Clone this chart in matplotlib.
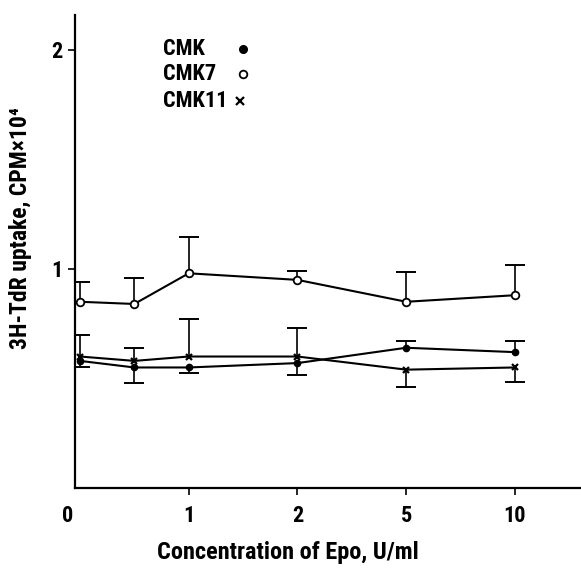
import numpy as np
import matplotlib.pyplot as plt
from matplotlib import transforms

plt.rcParams['font.family'] = ['Roboto Condensed', 'DejaVu Sans']
plt.rcParams['font.weight'] = 'bold'
plt.rcParams['font.stretch'] = 'condensed'
plt.rcParams['axes.labelweight'] = 'bold'

# Epo concentration (U/ml) placed on an evenly spaced category axis
conc_pos = np.array([0, 0.5, 1, 2, 3, 4])
tick_pos = [0, 1, 2, 3, 4]
tick_labels = ['0', '1', '2', '5', '10']

# 3H-TdR uptake, CPM x 10^4
cmk = np.array([0.58, 0.55, 0.55, 0.57, 0.64, 0.62])
cmk7 = np.array([0.85, 0.84, 0.98, 0.95, 0.85, 0.88])
cmk11 = np.array([0.60, 0.58, 0.60, 0.60, 0.54, 0.55])

# one-sided SD bars
cmk_lo = np.array([0.03, 0.07, 0.025, 0.055, 0, 0])
cmk_hi = np.array([0, 0, 0, 0, 0.03, 0.05])
cmk7_hi = np.array([0.09, 0.12, 0.165, 0.04, 0.135, 0.14])
cmk11_lo = np.array([0, 0, 0, 0, 0.08, 0.065])
cmk11_hi = np.array([0.10, 0.06, 0.17, 0.13, 0, 0])


def sd_bars(ax, x, y, err, sign):
    m = err > 0
    ends = y[m] + sign * err[m]
    ax.vlines(x[m], y[m], ends, color='k', lw=1.2, zorder=2)
    ax.plot(x[m], ends, ls='none', marker='_', ms=14, mew=1.4, color='k', zorder=2)


fig = plt.figure(figsize=(5.81, 5.74), dpi=100)
ax = fig.add_axes([0.129, 0.150, 0.871, 0.824])

ax.plot(conc_pos, cmk7, color='k', lw=1.5, marker='o', ms=5.5, mfc='white', mec='k', mew=1.3, zorder=3)
ax.plot(conc_pos, cmk, color='k', lw=1.5, marker='o', ms=4.5, mfc='k', mec='k', zorder=3)
ax.plot(conc_pos, cmk11, color='k', lw=1.5, marker='x', ms=5, mew=1.6, zorder=3)

sd_bars(ax, conc_pos, cmk7, cmk7_hi, 1)
sd_bars(ax, conc_pos, cmk, cmk_hi, 1)
sd_bars(ax, conc_pos, cmk, cmk_lo, -1)
sd_bars(ax, conc_pos, cmk11, cmk11_hi, 1)
sd_bars(ax, conc_pos, cmk11, cmk11_lo, -1)

ax.set_xlim(-0.046, 4.607)
ax.set_ylim(0, 2.16)

for side in ['top', 'right']:
    ax.spines[side].set_visible(False)
for side in ['left', 'bottom']:
    ax.spines[side].set_linewidth(1.6)

ax.set_xticks(tick_pos, tick_labels, fontsize=16)
ax.set_yticks([1, 2], ['1', '2'], fontsize=16)
ax.tick_params(axis='x', direction='out', length=5, width=1.2, pad=7)
ax.tick_params(axis='y', direction='out', length=5, width=1.2, pad=4)
ax.get_xticklines()[0].set_visible(False)
lab0 = ax.get_xticklabels()[0]
lab0.set_transform(lab0.get_transform() + transforms.ScaledTranslation(-9 / 72, 0, fig.dpi_scale_trans))

ax.set_xlabel('Concentration of Epo, U/ml', fontsize=17.5)
ax.xaxis.set_label_coords(0.42, -0.112)
ax.set_ylabel('3H-TdR uptake, CPM×10⁴', fontsize=17)
ax.yaxis.set_label_coords(-0.085, 0.55)

# key: name on the left, symbol on the right
key_names = ['CMK', 'CMK7', 'CMK11']
key_y = [0.928, 0.875, 0.818]
ax.text(0.174, key_y[0], key_names[0], transform=ax.transAxes, fontsize=16, va='center')
ax.text(0.174, key_y[1], key_names[1], transform=ax.transAxes, fontsize=16, va='center')
ax.text(0.174, key_y[2], key_names[2], transform=ax.transAxes, fontsize=16, va='center')
ax.plot([0.332], [key_y[0]], transform=ax.transAxes, marker='o', ms=5.5, color='k', clip_on=False)
ax.plot([0.332], [key_y[1]], transform=ax.transAxes, marker='o', ms=5.5, mfc='white', mec='k', mew=1.3, clip_on=False)
ax.plot([0.326], [key_y[2]], transform=ax.transAxes, marker='x', ms=5.5, mew=1.6, color='k', clip_on=False)

fig.savefig('out.png', dpi=100)
